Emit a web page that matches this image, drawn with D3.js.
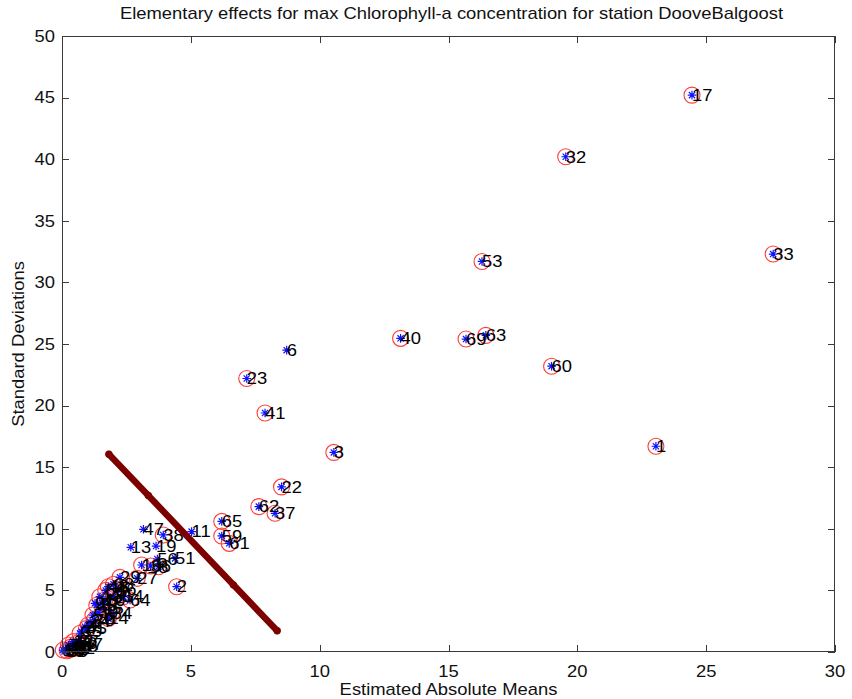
<!DOCTYPE html>
<html><head><meta charset="utf-8">
<script src="https://cdn.jsdelivr.net/npm/d3@7"></script>
<style>
html,body{margin:0;padding:0;background:#fff;}
svg{display:block;font-family:"Liberation Sans",Arial,Helvetica,sans-serif;}
</style>
</head><body>
<svg id="chart" width="852" height="699"></svg>
<script>
// ---- data ----
const titleText = "Elementary effects for max Chlorophyll-a concentration for station DooveBalgoost";
const xLabelText = "Estimated Absolute Means";
const yLabelText = "Standard Deviations";
const xTicks = [0, 5, 10, 15, 20, 25, 30];
const yTicks = [0, 5, 10, 15, 20, 25, 30, 35, 40, 45, 50];

const factorLabels = [17, 32, 33, 53, 40, 69, 63, 60, 1, 6, 23, 41, 3, 22, 62, 37, 65, 59, 61, 11, 47, 38, 13, 19, 51, 56, 16, 36, 8, 2, 29, 27,
  48, 44, 10, 31, 54, 64, 9, 15, 34, 14, 24, 4, 21, 35, 5, 12, 7, 20, 18, 25, 26, 30, 39, 42, 43, 45, 46, 49, 50, 52, 55, 57, 58, 66, 67, 68, 70];
const absMeans = [24.45, 19.55, 27.6, 16.3, 13.14, 15.68, 16.45, 19.0, 23.05, 8.72, 7.17, 7.88, 10.55, 8.52, 7.64, 8.27, 6.2, 6.2, 6.49, 5.03, 3.16, 3.93, 2.67, 3.65, 4.39, 3.7, 3.09, 3.44, 3.74, 4.45, 2.25, 2.92,
  1.8, 1.47, 1.67, 1.99, 2.38, 2.64, 1.28, 1.6, 1.93, 1.8, 1.09, 1.02, 0.89, 0.76, 0.7, 0.44, 0.25, 0.57, 0.05, 0.35, 0.6, 0.15, 1.4, 1.55, 1.35, 0.95, 2.1, 0.3, 0.1, 0.5, 1.2, 0.65, 1.7, 0.2, 0.8, 2.0, 1.25];
const stdDevs = [45.2, 40.2, 32.3, 31.7, 25.46, 25.4, 25.7, 23.2, 16.7, 24.5, 22.2, 19.4, 16.2, 13.4, 11.8, 11.26, 10.6, 9.42, 8.82, 9.77, 9.96, 9.5, 8.5, 8.6, 7.6, 7.55, 7.06, 6.98, 6.92, 5.3, 6.06, 5.98,
  5.3, 4.49, 4.22, 4.49, 4.49, 4.22, 3.95, 3.55, 3.14, 2.73, 2.46, 2.19, 2.05, 1.65, 1.52, 0.84, 0.57, 0.7, 0.16, 0.4, 0.45, 0.25, 3.2, 4.0, 3.8, 1.9, 5.1, 0.2, 0.05, 0.3, 3.0, 0.9, 5.0, 0.1, 0.6, 5.5, 2.6];
// factors marked only by the asterisk (no red circle)
const uncircledLabels = [6, 11, 47, 13, 19, 51, 56, 9, 24, 21, 35, 30, 39, 42, 50, 57];

// dark red separating line
const lineMeans = [1.82, 3.35, 6.65, 8.35];
const lineStds = [16.05, 12.7, 5.45, 1.73];

// ---- layout ----
const svg = d3.select("#chart");
const L = 62, R = 835, T = 36, B = 652;
const x = d3.scaleLinear().domain([0, 30]).range([L, R]);
const y = d3.scaleLinear().domain([0, 50]).range([B, T]);
const FS = 16, SX = 1.15;
const axisColor = "#3a3a3a";

const points = factorLabels.map((lab, i) => ({lab, m: absMeans[i], s: stdDevs[i], circ: !uncircledLabels.includes(lab)}));

// plot area
svg.append("rect").attr("x", L).attr("y", T).attr("width", R - L).attr("height", B - T)
  .attr("fill", "#fff");

// circles
svg.append("g").selectAll("circle").data(points.filter(d => d.circ)).join("circle")
  .attr("cx", d => x(d.m)).attr("cy", d => y(d.s)).attr("r", 8)
  .attr("fill", "none").attr("stroke", "#ff3b3b").attr("stroke-width", 1.1);

// asterisks
const ast = svg.append("g").attr("stroke", "#1010ff").attr("stroke-width", 1.2);
const a = 4.3, ad = 3.1;
points.forEach(d => {
  const cx = x(d.m), cy = y(d.s);
  ast.append("path").attr("d",
    `M${cx - a},${cy}H${cx + a}M${cx},${cy - a}V${cy + a}` +
    `M${cx - ad},${cy - ad}L${cx + ad},${cy + ad}M${cx - ad},${cy + ad}L${cx + ad},${cy - ad}`);
});

// labels
svg.append("g").selectAll("text").data(points).join("text")
  .attr("transform", d => `translate(${x(d.m)},${y(d.s)}) scale(${SX},1)`)
  .attr("dy", "0.36em").attr("font-size", FS).attr("fill", "#000")
  .text(d => d.lab);

// dark red line
svg.append("path")
  .datum(lineMeans.map((m, i) => [m, lineStds[i]]))
  .attr("d", d3.line().x(d => x(d[0])).y(d => y(d[1])))
  .attr("fill", "none").attr("stroke", "#7d0000").attr("stroke-width", 6.5)
  .attr("stroke-linecap", "round").attr("stroke-linejoin", "round");
svg.append("g").selectAll("circle").data(lineMeans.map((m, i) => [m, lineStds[i]])).join("circle")
  .attr("cx", d => x(d[0])).attr("cy", d => y(d[1])).attr("r", 3.7).attr("fill", "#7d0000");

// axes box and ticks
const ax = svg.append("g").attr("stroke", axisColor).attr("stroke-width", 1).attr("fill", "none");
ax.append("rect").attr("x", L + 0.5).attr("y", T + 0.5).attr("width", R - L - 1).attr("height", B - T - 1);
const TL = 7;
xTicks.forEach(t => {
  const px = Math.round(x(t)) + 0.5;
  ax.append("path").attr("d", `M${px},${B}V${B - TL}M${px},${T}V${T + TL}`);
});
yTicks.forEach(t => {
  const py = Math.round(y(t)) + 0.5;
  ax.append("path").attr("d", `M${L},${py}H${L + TL}M${R},${py}H${R - TL}`);
});

// tick labels
svg.append("g").selectAll("text").data(xTicks).join("text")
  .attr("transform", d => `translate(${x(d)},677) scale(${SX},1)`)
  .attr("text-anchor", "middle").attr("font-size", FS).attr("fill", "#111")
  .text(d => d);
svg.append("g").selectAll("text").data(yTicks).join("text")
  .attr("transform", d => `translate(${L - 7},${y(d)}) scale(${SX},1)`)
  .attr("text-anchor", "end").attr("dy", "0.36em").attr("font-size", FS).attr("fill", "#111")
  .text(d => d);

// title and axis labels
svg.append("text").attr("transform", `translate(${(L + R) / 2 + 3},19) scale(${SX},1)`)
  .attr("text-anchor", "middle").attr("font-size", FS).attr("fill", "#111").text(titleText);
svg.append("text").attr("transform", `translate(${(L + R) / 2},695) scale(${SX},1)`)
  .attr("text-anchor", "middle").attr("font-size", FS).attr("fill", "#111").text(xLabelText);
svg.append("text").attr("transform", `translate(24,${(T + B) / 2}) rotate(-90) scale(${SX},1)`)
  .attr("text-anchor", "middle").attr("font-size", FS).attr("fill", "#111").text(yLabelText);
</script>
</body></html>
